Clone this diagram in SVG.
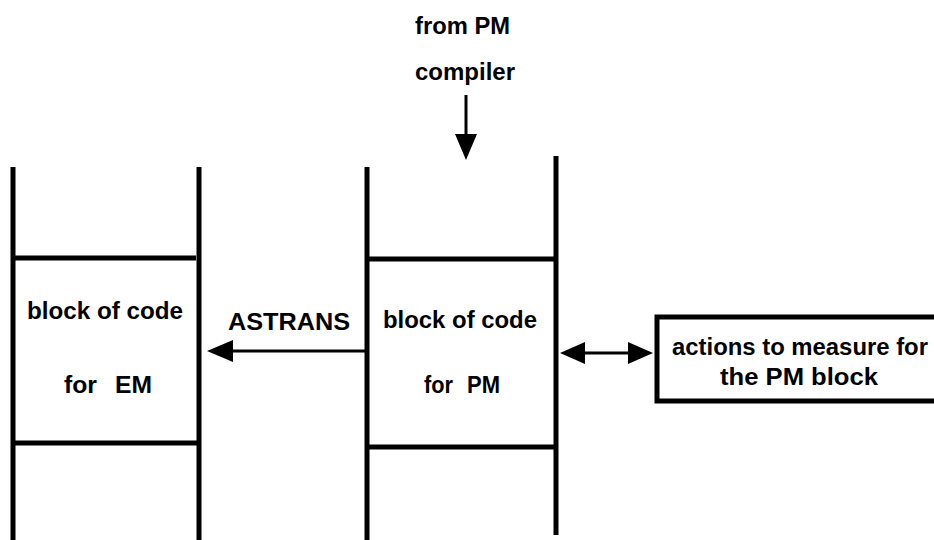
<svg xmlns="http://www.w3.org/2000/svg" width="934" height="540" viewBox="0 0 934 540">
<style>
  .ln { stroke: #000; stroke-width: 5; fill: none; stroke-linecap: butt; }
  .ar { stroke: #000; stroke-width: 3; fill: none; }
  .hd { fill: #000; stroke: none; }
  .t { font-family: "Liberation Sans", Arial, Helvetica, sans-serif; font-weight: bold; font-size: 23px; fill: #000; }
</style>
<rect x="0" y="0" width="934" height="540" fill="#fff"/>

<g id="stack-em">
  <line class="ln" x1="13" y1="167" x2="13" y2="540"/>
  <line class="ln" x1="199" y1="167" x2="199" y2="540"/>
  <line class="ln" x1="13" y1="258" x2="196" y2="258"/>
  <line class="ln" x1="13" y1="443" x2="199" y2="443"/>
  <text class="t" x="27" y="319" textLength="156" lengthAdjust="spacingAndGlyphs">block of code</text>
  <text class="t" y="393"><tspan x="64" textLength="33" lengthAdjust="spacingAndGlyphs">for</tspan> <tspan x="115" textLength="37" lengthAdjust="spacingAndGlyphs">EM</tspan></text>
</g>

<g id="stack-pm">
  <line class="ln" x1="367" y1="167" x2="367" y2="540"/>
  <line class="ln" x1="556" y1="156" x2="556" y2="535"/>
  <line class="ln" x1="367" y1="259" x2="556" y2="259"/>
  <line class="ln" x1="367" y1="447" x2="556" y2="447"/>
  <text class="t" x="383" y="328" textLength="154" lengthAdjust="spacingAndGlyphs">block of code</text>
  <text class="t" y="393"><tspan x="424" textLength="29" lengthAdjust="spacingAndGlyphs">for</tspan> <tspan x="467" textLength="33" lengthAdjust="spacingAndGlyphs">PM</tspan></text>
</g>

<g id="source">
  <text class="t" x="415" y="34" textLength="95" lengthAdjust="spacingAndGlyphs">from PM</text>
  <text class="t" x="415" y="80" textLength="100" lengthAdjust="spacingAndGlyphs">compiler</text>
</g>

<g id="measure-box">
  <rect x="657" y="317" width="290" height="84" fill="none" stroke="#000" stroke-width="5"/>
  <text class="t" x="672" y="355" textLength="256" lengthAdjust="spacingAndGlyphs">actions to measure for</text>
  <text class="t" x="720" y="385" textLength="158" lengthAdjust="spacingAndGlyphs">the PM block</text>
</g>

<g id="connectors">
  <line class="ar" x1="466" y1="95" x2="466" y2="138"/>
  <polygon class="hd" points="455,134 477,134 466,160"/>

  <line class="ar" x1="365" y1="351" x2="228" y2="351"/>
  <polygon class="hd" points="207,351 233,340 233,362"/>
  <text class="t" x="228" y="330" textLength="122" lengthAdjust="spacingAndGlyphs">ASTRANS</text>

  <line class="ar" x1="580" y1="353" x2="632" y2="353"/>
  <polygon class="hd" points="560,353 585,342 585,364"/>
  <polygon class="hd" points="653,353 628,342 628,364"/>
</g>
</svg>
